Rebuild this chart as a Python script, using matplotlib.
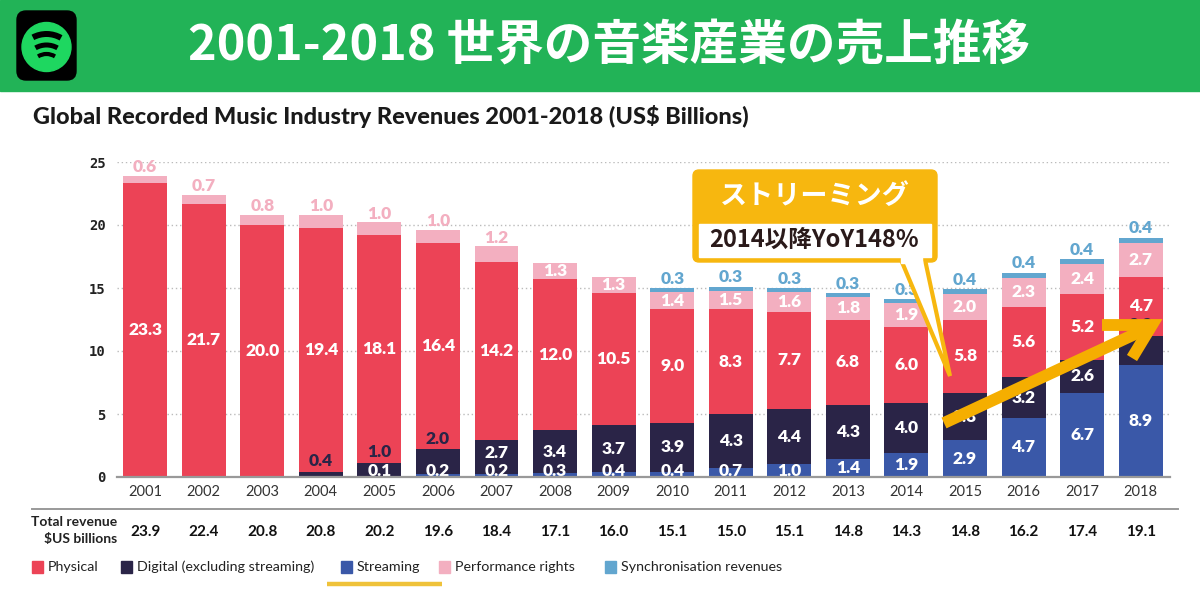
import matplotlib
matplotlib.use("Agg")
import numpy as np
import matplotlib.pyplot as plt
from matplotlib.patches import Rectangle, FancyBboxPatch, Circle, Arc, Polygon

# data (US$ billions)
years = [str(y) for y in range(2001, 2019)]
physical = [23.3, 21.7, 20.0, 19.4, 18.1, 16.4, 14.2, 12.0, 10.5, 9.0, 8.3, 7.7, 6.8, 6.0, 5.8, 5.6, 5.2, 4.7]
digital = [0, 0, 0, 0.4, 1.0, 2.0, 2.7, 3.4, 3.7, 3.9, 4.3, 4.4, 4.3, 4.0, 3.8, 3.2, 2.6, 2.3]
streaming = [0, 0, 0, 0, 0.1, 0.2, 0.2, 0.3, 0.4, 0.4, 0.7, 1.0, 1.4, 1.9, 2.9, 4.7, 6.7, 8.9]
performance = [0.6, 0.7, 0.8, 1.0, 1.0, 1.0, 1.2, 1.3, 1.3, 1.4, 1.5, 1.6, 1.8, 1.9, 2.0, 2.3, 2.4, 2.7]
sync = [0, 0, 0, 0, 0, 0, 0, 0, 0, 0.3, 0.3, 0.3, 0.3, 0.3, 0.4, 0.4, 0.4, 0.4]
totals = [23.9, 22.4, 20.8, 20.8, 20.2, 19.6, 18.4, 17.1, 16.0, 15.1, 15.0, 15.1, 14.8, 14.3, 14.8, 16.2, 17.4, 19.1]
legend_labels = ["Physical", "Digital (excluding streaming)", "Streaming",
                 "Performance rights", "Synchronisation revenues"]

c_phys = "#EC4356"
c_dig = "#2A2447"
c_str = "#3A58A8"
c_perf = "#F3AFC0"
c_sync = "#62A6CF"
colors = [c_phys, c_dig, c_str, c_perf, c_sync]
lab_font = ["Lato", "DejaVu Sans"]
jp_font = ["Noto Sans CJK JP", "DejaVu Sans"]

fig = plt.figure(figsize=(12, 5.92), dpi=100)
fig.patch.set_facecolor("white")

ax = fig.add_axes([117 / 1200, 1 - 477 / 592, 1053 / 1200, 315 / 592])
x = np.arange(len(years))
w = 0.75
s = np.array(streaming)
d = np.array(digital)
p = np.array(physical)
pr = np.array(performance)
sy = np.array(sync)

ax.bar(x, s, w, color=c_str, zorder=3)
ax.bar(x, d, w, bottom=s, color=c_dig, zorder=3)
ax.bar(x, p, w, bottom=s + d, color=c_phys, zorder=3)
ax.bar(x, pr, w, bottom=s + d + p, color=c_perf, zorder=3)
ax.bar(x, sy, w, bottom=s + d + p + pr, color=c_sync, zorder=3)

lab_kw = dict(ha="center", va="center", fontsize=12.5, fontweight="heavy", family=lab_font, zorder=4)
for i in x:
    # streaming
    if s[i] > 0:
        ax.text(i, max(s[i] / 2, 0.5), f"{s[i]:.1f}", color="white", **lab_kw)
    # digital
    if d[i] > 0:
        if d[i] < 2.5:
            ax.text(i, s[i] + d[i] + 0.85, f"{d[i]:.1f}", color=c_dig, **lab_kw)
        else:
            ax.text(i, max(s[i] + d[i] / 2, 1.9), f"{d[i]:.1f}", color="white", **lab_kw)
    # physical
    base = s[i] + d[i]
    ax.text(i, base + p[i] / 2, f"{p[i]:.1f}", color="white", **lab_kw)
    base += p[i]
    # performance rights
    if i < 7:
        ax.text(i, base + pr[i] + 0.7, f"{pr[i]:.1f}", color=c_perf, **lab_kw)
    else:
        ax.text(i, base + pr[i] / 2, f"{pr[i]:.1f}", color="white", **lab_kw)
    base += pr[i]
    # sync
    if sy[i] > 0:
        ax.text(i, base + sy[i] + 0.75, f"{sy[i]:.1f}", color=c_sync, **lab_kw)

ax.set_xlim(-0.48, 17.5)
ax.set_ylim(0, 25)
ax.set_yticks([0, 5, 10, 15, 20, 25])
ax.set_yticklabels(["0", "5", "10", "15", "20", "25"], fontsize=10, fontweight="bold",
                   color="#222222", family=["DejaVu Sans Mono"])
ax.set_xticks(x)
ax.set_xticklabels(years, fontsize=10.5, color="#333333", family=lab_font)
ax.tick_params(axis="both", length=0)
ax.tick_params(axis="y", pad=8)
ax.tick_params(axis="x", pad=6)
ax.grid(axis="y", linestyle=(0, (1, 2)), color="#bbbbbb", linewidth=1, zorder=0)
for sp in ["left", "right", "top"]:
    ax.spines[sp].set_visible(False)
ax.spines["bottom"].set_color("#999999")
ax.spines["bottom"].set_linewidth(1.6)
ax.spines["bottom"].set_zorder(5)

# total revenue row
for i, t in enumerate(totals):
    ax.text(i, -(532 - 477) / 12.6, f"{t:.1f}", ha="center", va="center", fontsize=11,
            fontweight="bold", color="#111111", family=lab_font, clip_on=False)

# overlay in pixel coordinates for header, legend and callout
ov = fig.add_axes([0, 0, 1, 1], zorder=5)
ov.set_xlim(0, 1200)
ov.set_ylim(592, 0)
ov.axis("off")
ov.patch.set_alpha(0)

# header
ov.add_patch(Rectangle((0, 0), 1200, 91, color="#22B357", zorder=1))
ov.add_patch(FancyBboxPatch((17, 11), 59, 69, boxstyle="round,pad=0,rounding_size=9",
                            color="black", zorder=2))
ov.add_patch(Circle((46.5, 47), 24.5, color="#1ED760", zorder=3))
ov.add_patch(Arc((46.5, 63), 58, 58, theta1=242, theta2=300, color="black", lw=4.3, zorder=4))
ov.add_patch(Arc((46.5, 67), 44, 44, theta1=240, theta2=300, color="black", lw=3.6, zorder=4))
ov.add_patch(Arc((46.5, 70), 32, 32, theta1=238, theta2=302, color="black", lw=3.0, zorder=4))
ov.text(609, 46, "2001-2018 世界の音楽産業の売上推移", ha="center", va="center",
        fontsize=35, fontweight="bold", color="white", family=jp_font, zorder=3)

ov.text(33, 117, "Global Recorded Music Industry Revenues 2001-2018 (US$ Billions)",
        ha="left", va="center", fontsize=16.9, fontweight="black", color="#1a1a1a",
        family=lab_font)

# separator and total label
ov.plot([32, 1178], [509, 509], color="#999999", lw=1.4)
ov.text(117, 522, "Total revenue", ha="right", va="center", fontsize=10, fontweight="bold",
        color="#222222", family=lab_font)
ov.text(117, 539, "$US billions", ha="right", va="center", fontsize=10, fontweight="bold",
        color="#222222", family=lab_font)

# legend
leg_x = [32, 121, 341, 439, 605]
for lx, col, lab in zip(leg_x, colors, legend_labels):
    ov.add_patch(Rectangle((lx, 561), 11, 12, color=col))
    ov.text(lx + 16, 567, lab, ha="left", va="center", fontsize=10.3, color="#222222",
            family=lab_font)
ov.plot([327, 442], [583.5, 583.5], color="#EFC23A", lw=3.2, solid_capstyle="butt")

# callout
yel = "#F7B70F"
ov.add_patch(FancyBboxPatch((693, 170), 244, 92, boxstyle="round,pad=0,rounding_size=6",
                            color=yel, zorder=6))
ov.add_patch(Polygon([(899, 255), (950, 376), (924, 255)], closed=True, facecolor="white",
                     edgecolor=yel, lw=3, zorder=7))
ov.add_patch(Rectangle((699, 224), 232, 33, color="white", zorder=8))
ov.add_patch(Rectangle((901, 255), 21, 8, color="white", zorder=8))
ov.text(815, 196, "ストリーミング", ha="center", va="center", fontsize=19.5, fontweight="bold",
        color="white", family=jp_font, zorder=9)
ov.text(814, 240, "2014以降YoY148%", ha="center", va="center", fontsize=17, fontweight="bold",
        color="#2a1a1a", family=jp_font, zorder=9)

# arrow
arr = "#F5AE00"
ov.plot([944, 1148], [423, 328], color=arr, lw=8.5, solid_capstyle="butt", zorder=6)
ov.plot([1102, 1152, 1132], [325, 325, 358], color=arr, lw=8.5, solid_joinstyle="miter",
        solid_capstyle="butt", zorder=6)

fig.savefig("out.png", dpi=100, facecolor="white")
